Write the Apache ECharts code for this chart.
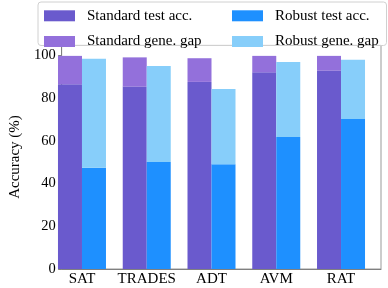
<!DOCTYPE html>
<html>
<head>
<meta charset="utf-8">
<script src="https://cdn.jsdelivr.net/npm/echarts@6/dist/echarts.min.js"></script>
<style>html,body{margin:0;padding:0;background:#fff}#c{width:388px;height:288px}</style>
</head>
<body>
<div id="c"></div>
<script>
var categories = ['SAT', 'TRADES', 'ADT', 'AVM', 'RAT'];
var standardTest = [86.6, 85.5, 87.7, 92.2, 93.0];
var standardGap = [13.3, 13.7, 11.1, 7.7, 6.9];
var robustTest = [47.5, 50.2, 49.1, 61.9, 70.3];
var robustGap = [51.1, 45.0, 35.3, 35.1, 27.8];
var yTicks = [0, 20, 40, 60, 80, 100];
var seriesNames = ['Standard test acc.', 'Standard gene. gap', 'Robust test acc.', 'Robust gene. gap'];

var FONT = 'Liberation Serif';

var chart = echarts.init(document.getElementById('c'));
chart.setOption({
  animation: false,
  textStyle: { fontFamily: FONT },
  grid: [
    { left: 42.5, right: 7, top: 45, bottom: 19, show: true, borderColor: '#999', borderWidth: 1, backgroundColor: 'transparent' },
    { left: 49.6, right: 14.6, top: 45, bottom: 19 }
  ],
  graphic: [{
    type: 'rect', left: 37.5, top: 1.5, z: 3,
    shape: { width: 348.5, height: 43.5, r: 3 },
    style: { fill: 'rgba(255,255,255,0.85)', stroke: '#d0d0d0', lineWidth: 1 }
  }],
  legend: [{
    orient: 'vertical', left: 44, top: 8.3, padding: 0, itemGap: 10.7,
    itemWidth: 31, itemHeight: 11, z: 5,
    icon: 'rect',
    data: [seriesNames[0], seriesNames[1]],
    textStyle: { fontFamily: FONT, fontSize: 15, color: '#000', lineHeight: 11, padding: [0, 0, 0, 7] }
  }, {
    orient: 'vertical', left: 232, top: 8.3, padding: 0, itemGap: 10.7,
    itemWidth: 31, itemHeight: 11, z: 5,
    icon: 'rect',
    data: [seriesNames[2], seriesNames[3]],
    textStyle: { fontFamily: FONT, fontSize: 15, color: '#000', lineHeight: 11, padding: [0, 0, 0, 7] }
  }],
  xAxis: [{
    gridIndex: 0, type: 'value', min: 0, max: 1,
    splitLine: { show: false },
    axisLine: { show: true, lineStyle: { color: '#808080', width: 1 } },
    axisTick: { show: false }, axisLabel: { show: false }
  }, {
    gridIndex: 1, type: 'category', data: categories,
    axisLine: { show: false }, axisTick: { show: false },
    axisLabel: { interval: 0, hideOverlap: false, fontFamily: FONT, fontSize: 15, color: '#000', margin: 3 }
  }],
  yAxis: [{
    gridIndex: 0, type: 'value', min: 0, max: 105,
    name: 'Accuracy (%)', nameLocation: 'middle', nameGap: 27,
    nameTextStyle: { fontFamily: FONT, fontSize: 15, color: '#000' },
    splitLine: { show: false },
    axisLine: { show: true, lineStyle: { color: '#808080', width: 1 } },
    axisTick: { show: true, inside: false, length: 3.5, customValues: yTicks, lineStyle: { color: '#808080' } },
    axisLabel: { customValues: yTicks, fontFamily: FONT, fontSize: 14.5, color: '#000', margin: 6 }
  }, {
    gridIndex: 1, type: 'value', min: 0, max: 105, show: false,
    splitLine: { show: false }
  }],
  series: [
    { name: seriesNames[0], type: 'bar', xAxisIndex: 1, yAxisIndex: 1, stack: 'std', barWidth: 24, barGap: '0%', data: standardTest, itemStyle: { color: '#6A5ACD' } },
    { name: seriesNames[1], type: 'bar', xAxisIndex: 1, yAxisIndex: 1, stack: 'std', barWidth: 24, barGap: '0%', data: standardGap, itemStyle: { color: '#9370DB' } },
    { name: seriesNames[2], type: 'bar', xAxisIndex: 1, yAxisIndex: 1, stack: 'rob', barWidth: 24, barGap: '0%', data: robustTest, itemStyle: { color: '#1E90FF' } },
    { name: seriesNames[3], type: 'bar', xAxisIndex: 1, yAxisIndex: 1, stack: 'rob', barWidth: 24, barGap: '0%', data: robustGap, itemStyle: { color: '#87CEFA' } }
  ]
});
</script>
</body>
</html>
